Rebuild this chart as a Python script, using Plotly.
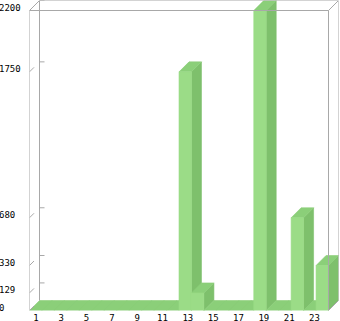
import plotly.graph_objects as go

# ---- data ----
categories = list(range(1, 25))
values = [0, 0, 0, 0, 0, 0, 0, 0, 0, 0, 0, 0,
          1750, 129, 0, 0, 0, 0, 2200, 0, 0, 680, 0, 330]
x_tick_values = categories[::2]
x_tick_labels = [str(c) for c in x_tick_values]
y_tick_values = sorted(set(values))
y_tick_labels = [str(v) for v in y_tick_values]

# ---- geometry (pixels) ----
W, H = 340, 321
PX_LEFT, PX_RIGHT = 29.5, 328.5
PX_TOP, PX_BOTTOM = 10.5, 310.5
DEPTH = 10
LABEL_SHIFT = 3

FRONT = "#9BDC87"
TOP = "#8BCF79"
SIDE = "#7EC06C"
FRAME = "#A8A8A8"
FONT = dict(family="DejaVu Sans Mono", size=9, color="#000000")

n = len(categories)
ymax = max(values)
ux = (PX_RIGHT - PX_LEFT) / n
uy = (PX_BOTTOM - PX_TOP) / ymax
dx = DEPTH / ux
dy = DEPTH / uy
x0 = categories[0] - 0.5
x1 = categories[-1] + 0.5
xrange = [x0, x1 + dx]
yrange = [0, ymax + dy]
xdomain = [PX_LEFT / W, (PX_RIGHT + DEPTH) / W]
ydomain = [(H - PX_BOTTOM) / H, (H - (PX_TOP - DEPTH)) / H]

sx, sy, tx, ty, fx, fy = [], [], [], [], [], []
for c, v in zip(categories, values):
    l, r = c - 0.5, c + 0.5
    if v > 0:
        fx += [l, r, r, l, l, None]
        fy += [0, 0, v, v, 0, None]
        sx += [r, r + dx, r + dx, r, r, None]
        sy += [0, dy, v + dy, v, 0, None]
    tx += [l, r, r + dx, l + dx, l, None]
    ty += [v, v, v + dy, v + dy, v, None]

fig = go.Figure()
for xs, ys, col in ((sx, sy, SIDE), (tx, ty, TOP), (fx, fy, FRONT)):
    fig.add_trace(go.Scatter(x=xs, y=ys, mode="lines", fill="toself",
                             fillcolor=col, line=dict(width=0.6, color=col),
                             hoverinfo="skip", showlegend=False))

# invisible trace for label axes
fig.add_trace(go.Scatter(x=categories, y=values, xaxis="x2", yaxis="y2",
                         mode="markers", marker=dict(opacity=0),
                         hoverinfo="skip", showlegend=False))

shapes = []
def seg(xa, ya, xb, yb):
    shapes.append(dict(type="line", xref="x", yref="y", x0=xa, y0=ya,
                       x1=xb, y1=yb, line=dict(color=FRAME, width=1)))

# front frame
seg(x0, 0, x0, ymax)
seg(x0, ymax, x1, ymax)
seg(x1, 0, x1, ymax)
# back frame
seg(x0 + dx, dy, x0 + dx, ymax + dy)
seg(x0 + dx, ymax + dy, x1 + dx, ymax + dy)
seg(x1 + dx, dy, x1 + dx, ymax + dy)
# diagonals
seg(x0, ymax, x0 + dx, ymax + dy)
seg(x1, ymax, x1 + dx, ymax + dy)
seg(x1, 0, x1 + dx, dy)
# ticks
for v in y_tick_values:
    seg(x0, v, x0 + 0.45 * dx, v + 0.45 * dy)
    if v > 0:
        seg(x0 + dx, v + dy, x0 + dx + 5 / ux, v + dy)

ux2 = (PX_RIGHT + DEPTH / 2 - PX_LEFT) / n
x2range = [x0, x0 + (PX_RIGHT + DEPTH - PX_LEFT) / ux2]
y2range = [-LABEL_SHIFT / uy, yrange[1] - LABEL_SHIFT / uy]

fig.update_layout(
    width=W, height=H,
    margin=dict(l=0, r=0, t=0, b=0, pad=0),
    paper_bgcolor="white", plot_bgcolor="white",
    showlegend=False,
    shapes=shapes,
    xaxis=dict(domain=xdomain, range=xrange, showgrid=False, zeroline=False,
               showticklabels=False, ticks="", showline=False, automargin=False,
               fixedrange=True),
    yaxis=dict(domain=ydomain, range=yrange, showgrid=False, zeroline=False,
               showticklabels=False, ticks="", showline=False, automargin=False,
               fixedrange=True),
    xaxis2=dict(overlaying="x", anchor="y", range=x2range, showgrid=False,
                zeroline=False, ticks="", tickvals=x_tick_values,
                ticktext=x_tick_labels, tickfont=FONT, automargin=False,
                showline=False),
    yaxis2=dict(overlaying="y", anchor="free", position=0, side="right",
                range=y2range, showgrid=False, zeroline=False, ticks="",
                tickvals=y_tick_values, ticktext=y_tick_labels, tickfont=FONT,
                automargin=False, showline=False, ticklabelstandoff=-2),
)

fig.write_html("out.html")
